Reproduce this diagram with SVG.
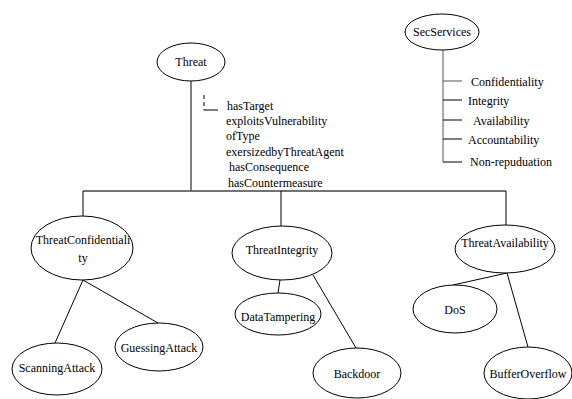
<svg xmlns="http://www.w3.org/2000/svg" width="572" height="399" viewBox="0 0 572 399">
<style>
.n ellipse{fill:#fff;stroke:#000;stroke-width:1}
text{font-family:"Liberation Serif","Times New Roman",serif;font-size:12px;fill:#000}
.c{text-anchor:middle}
#connectors line,#connectors polyline{stroke:#000;stroke-width:1;fill:none}
</style>
<rect width="572" height="399" fill="#fff"/>
<g id="connectors">
<line x1="191" y1="80" x2="191" y2="191"/>
<line x1="83" y1="191" x2="506" y2="191" style="stroke:#444;stroke-width:1.4"/>
<line x1="83" y1="191" x2="83" y2="217"/>
<line x1="281" y1="191" x2="281" y2="227"/>
<line x1="506" y1="191" x2="506" y2="225"/>
<line x1="204" y1="95" x2="204" y2="110" stroke-dasharray="4,3"/>
<line x1="204" y1="110" x2="218" y2="110"/>
<line x1="83" y1="280" x2="55" y2="343"/>
<line x1="83" y1="280" x2="158" y2="323"/>
<line x1="280" y1="280" x2="278" y2="293"/>
<line x1="313" y1="275" x2="356" y2="348"/>
<line x1="507" y1="273" x2="453" y2="285"/>
<line x1="507" y1="273" x2="528" y2="347"/>
<line x1="443" y1="50" x2="443" y2="162" style="stroke:#555"/>
<line x1="443" y1="81" x2="462" y2="81" style="stroke:#555"/>
<line x1="443" y1="100" x2="462" y2="100"/>
<line x1="443" y1="120" x2="462" y2="120"/>
<line x1="443" y1="139" x2="462" y2="139"/>
<line x1="443" y1="162" x2="462" y2="162"/>
</g>
<g id="labels">
<text x="227" y="110">hasTarget</text>
<text x="226" y="125">exploitsVulnerability</text>
<text x="226" y="140">ofType</text>
<text x="226" y="156">exersizedbyThreatAgent</text>
<text x="229" y="171">hasConsequence</text>
<text x="228" y="187">hasCountermeasure</text>
<text x="471" y="86">Confidentiality</text>
<text x="468" y="105">Integrity</text>
<text x="473" y="125">Availability</text>
<text x="468" y="144">Accountability</text>
<text x="470" y="166">Non-repuduation</text>
</g>
<g id="Threat" class="n"><ellipse cx="191" cy="62" rx="34" ry="19"/><text class="c" x="191" y="66">Threat</text></g>
<g id="SecServices" class="n"><ellipse cx="442" cy="32" rx="37" ry="18"/><text class="c" x="442" y="36">SecServices</text></g>
<g id="ThreatConfidentiality" class="n"><ellipse cx="82" cy="248" rx="51" ry="32"/><text class="c" x="83" y="244">ThreatConfidentiali</text><text class="c" x="83" y="262">ty</text></g>
<g id="ThreatIntegrity" class="n"><ellipse cx="282" cy="253" rx="50" ry="27"/><text class="c" x="282" y="254">ThreatIntegrity</text></g>
<g id="ThreatAvailability" class="n"><ellipse cx="505" cy="249" rx="50" ry="24"/><text class="c" x="505" y="247">ThreatAvailability</text></g>
<g id="ScanningAttack" class="n"><ellipse cx="57" cy="369" rx="45" ry="26"/><text class="c" x="57" y="372">ScanningAttack</text></g>
<g id="GuessingAttack" class="n"><ellipse cx="159" cy="347" rx="44" ry="24"/><text class="c" x="159" y="352">GuessingAttack</text></g>
<g id="DataTampering" class="n"><ellipse cx="278" cy="314" rx="43" ry="21"/><text class="c" x="278" y="321">DataTampering</text></g>
<g id="Backdoor" class="n"><ellipse cx="357" cy="373" rx="44" ry="25"/><text class="c" x="357" y="378">Backdoor</text></g>
<g id="DoS" class="n"><ellipse cx="455" cy="309" rx="42" ry="24"/><text class="c" x="455" y="314">DoS</text></g>
<g id="BufferOverflow" class="n"><ellipse cx="528" cy="373" rx="44" ry="26"/><text class="c" x="528" y="378">BufferOverflow</text></g>
</svg>
